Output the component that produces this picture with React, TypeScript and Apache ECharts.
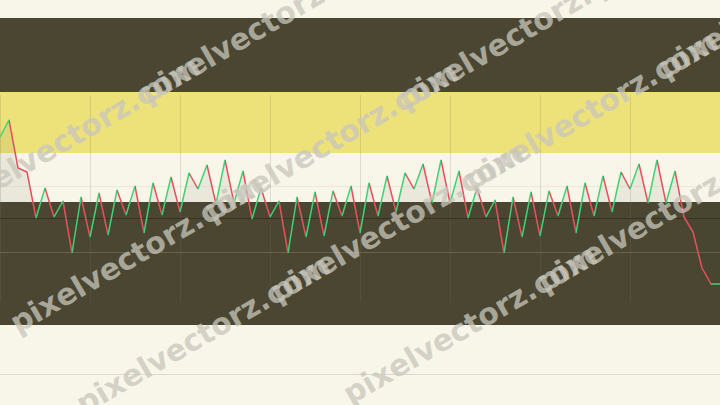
import React, { useEffect, useRef } from "react";
import * as echarts from "echarts";

// ---- data ----
const values: number[] = [
  53.6, 57.0, 47.4, 46.6,
  37.4, 43.4, 37.6, 40.8, 30.4, 41.6, 33.6, 42.4, 34.0, 43.0, 38.0, 43.8,
  34.4, 44.4, 38.0, 45.6, 38.6, 46.4, 43.2, 48.0, 40.2, 49.0, 40.4, 46.8,
  37.2, 43.4, 37.6, 40.8, 30.4, 41.6, 33.6, 42.6, 33.8, 42.8, 37.8, 43.8,
  34.4, 44.4, 37.8, 45.8, 38.6, 46.4, 43.2, 48.2, 40.4, 49.0, 40.4, 46.8,
  37.4, 43.4, 37.6, 41.0, 30.4, 41.6, 33.6, 42.6, 33.8, 42.8, 37.8, 43.8,
  34.4, 44.4, 37.8, 45.8, 38.6, 46.6, 43.2, 48.2, 40.4, 49.0, 40.4, 46.8,
  37.6, 34.6, 27.4, 24.2, 24.2,
];
const categories: string[] = values.map((_, i) => "P" + i);

// horizontal bands: [from, to, kind]
const bandFrom = [62.6, 50.4, 16.0];
const bandTo = [77.4, 62.6, 40.6];
const bandKind = ["dark", "yellow", "dark"];
// faint horizontal reference lines
const refLines = [43.8, 37.4, 30.6, 6.2];
const areaBase = 40.6;
const yMin = 0;
const yMax = 81;

const watermark = "pixelvectorz.com";

const COLORS = {
  bg: "#f8f6e8",
  dark: "#4a4632",
  yellow: "#ede17a",
  up: "#42d077",
  down: "#e4515c",
};

export default function App() {
  const ref = useRef<HTMLDivElement>(null);
  useEffect(() => {
    if (!ref.current) return;
    const chart = echarts.init(ref.current, undefined, { renderer: "svg" });

    const pieces: any[] = [];
    for (let i = 0; i < values.length - 1; i++) {
      const up = values[i + 1] >= values[i];
      const p: any = { gte: i, color: up ? COLORS.up : COLORS.down };
      if (i === values.length - 2) p.lte = i + 1;
      else p.lt = i + 1;
      pieces.push(p);
    }

    const refColors = [
      "rgba(0,0,0,0.05)",
      "rgba(30,28,18,0.45)",
      "rgba(140,132,100,0.45)",
      "#dcdacd",
    ];

    const angle = (30 * Math.PI) / 180;
    const step = 224;
    const lineStarts: [number, number, number][] = [
      [-44, 220, 3],
      [20, 338, 4],
      [86, 419, 4],
      [353, 409, 2],
    ];
    const graphics: any[] = lineStarts.map(([x, y, n]) => ({
      type: "group",
      x,
      y,
      rotation: angle,
      silent: true,
      z: 100,
      children: Array.from({ length: n }, (_, k) => ({
        type: "text",
        x: k * step,
        y: 0,
        z: 100,
        style: {
          text: watermark,
          font: 'bold 30px "DejaVu Sans"',
          fill: "rgba(200,198,188,0.75)",
          verticalAlign: "bottom",
          align: "left",
          textShadowColor: "rgba(50,48,36,0.6)",
          textShadowOffsetX: 1.5,
          textShadowOffsetY: 1.5,
          textShadowBlur: 0,
        },
      })),
    }));

    chart.setOption({
      animation: false,
      backgroundColor: COLORS.bg,
      grid: [
        { left: 0, right: 0, top: 0, bottom: 0 },
        { left: 0, right: 0, top: 95, bottom: 103 },
      ],
      xAxis: [
        {
          type: "category",
          gridIndex: 0,
          data: categories,
          boundaryGap: false,
          show: false,
        },
        {
          type: "category",
          gridIndex: 1,
          data: categories,
          boundaryGap: false,
          z: 2,
          axisLine: { show: false },
          axisTick: { show: false },
          axisLabel: { show: false },
          splitLine: {
            show: true,
            interval: 9,
            lineStyle: { color: "rgba(120,114,86,0.2)", width: 1 },
          },
        },
      ],
      yAxis: [
        { type: "value", gridIndex: 0, min: yMin, max: yMax, show: false },
        { type: "value", gridIndex: 1, min: 0, max: 1, show: false },
      ],
      visualMap: {
        type: "piecewise",
        show: false,
        dimension: 0,
        seriesIndex: 2,
        pieces,
      },
      series: [
        {
          type: "line",
          data: [],
          z: 1,
          silent: true,
          markArea: {
            silent: true,
            data: bandFrom.map((f, i) => [
              {
                yAxis: f,
                itemStyle: {
                  color: bandKind[i] === "dark" ? COLORS.dark : COLORS.yellow,
                },
              },
              { yAxis: bandTo[i] },
            ]),
          },
        },
        {
          type: "line",
          data: [],
          z: 3,
          silent: true,
          markLine: {
            silent: true,
            symbol: "none",
            label: { show: false },
            data: refLines.map((v, i) => ({
              yAxis: v,
              lineStyle: { color: refColors[i], width: 1, type: "solid" },
            })),
          },
        },
        {
          type: "line",
          data: values,
          z: 5,
          symbol: "none",
          lineStyle: { width: 1.5 },
          areaStyle: { color: "rgba(60,58,40,0.1)", origin: areaBase },
        },
      ],
      graphic: graphics,
    });
    return () => chart.dispose();
  }, []);
  return (
    <div
      ref={ref}
      style={{ position: "fixed", left: 0, top: 0, width: 720, height: 405 }}
    />
  );
}
